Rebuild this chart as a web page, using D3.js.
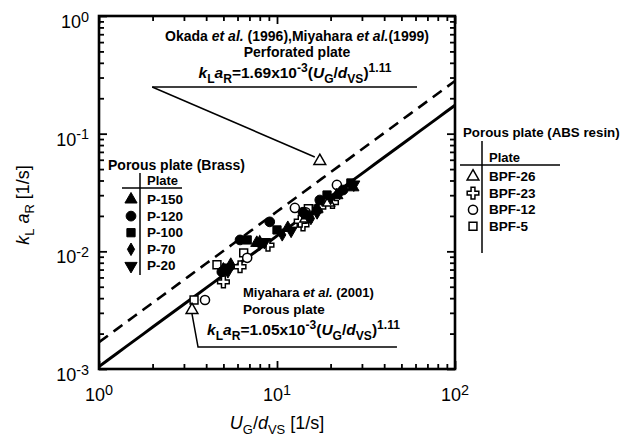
<!DOCTYPE html>
<html>
<head>
<meta charset="utf-8">
<script src="https://cdn.jsdelivr.net/npm/d3@7"></script>
<style>
  body { margin: 0; background: #fff; }
  svg { font-family: "Liberation Sans", Arial, sans-serif; }
</style>
</head>
<body>
<svg id="chart" width="623" height="436"></svg>
<script>
// ---- data (U_G/d_VS [1/s], kLaR [1/s]) ----
const p150 = [[5.0,0.0070],[7.7,0.0118],[11.5,0.0158],[16.8,0.0230],[21.7,0.0300],[26.7,0.0350]];
const p120 = [[4.9,0.0067],[6.2,0.0125],[9.1,0.0178],[14.0,0.0215],[17.4,0.0273],[23.5,0.0332]];
const p100 = [[5.2,0.0072],[6.8,0.0125],[10.0,0.0152],[14.5,0.0204],[19.1,0.0301],[26.0,0.0381]];
const p70  = [[5.5,0.0078],[8.0,0.0115],[10.7,0.0138],[15.5,0.0190],[16.8,0.0212],[22.5,0.0310]];
const p20  = [[5.3,0.0068],[8.5,0.0120],[12.0,0.0150],[15.0,0.0198],[20.0,0.0285],[27.0,0.0370]];
const bpf26 = [[8.0,0.0118],[14.5,0.0190],[19.5,0.0260]];
const bpf23 = [[5.0,0.0055],[6.2,0.0074],[8.9,0.0113],[14.0,0.0168],[13.5,0.0180],[17.4,0.0238],[20.5,0.0260]];
const bpf12 = [[3.94,0.00386],[6.8,0.0088],[12.6,0.0234],[14.5,0.0215],[21.7,0.0367]];
const bpf5  = [[3.42,0.00386],[4.6,0.0077],[6.5,0.0097],[15.0,0.0230],[19.0,0.0270]];

const brassNames = ["P-150","P-120","P-100","P-70","P-20"];
const absNames = ["BPF-26","BPF-23","BPF-12","BPF-5"];

// correlation lines kLaR = c * (UG/dVS)^1.11
const coefPerforated = 1.69e-3;
const coefPorous = 1.05e-3;
const expo = 1.11;

const xTickExp = [0, 1, 2];
const yTickExp = [-3, -2, -1, 0];

// ---- layout ----
const margin = {left: 99, top: 16, right: 168, bottom: 67};
const width = 623 - margin.left - margin.right;
const height = 436 - margin.top - margin.bottom;

const svg = d3.select("#chart");
const g = svg.append("g").attr("transform", `translate(${margin.left},${margin.top})`);

const x = d3.scaleLog().domain([1, 100]).range([0, width]);
const y = d3.scaleLog().domain([1e-3, 1]).range([height, 0]);

// minor / major tick values
const xMajor = xTickExp.map(e => 10 ** e);
const yMajor = yTickExp.map(e => 10 ** e);
const isMajor = v => Math.abs(Math.log10(v) - Math.round(Math.log10(v))) < 1e-6;
const xMinor = x.ticks().filter(v => !isMajor(v));
const yMinor = y.ticks().filter(v => !isMajor(v));

function tickAxis(gen, vals, size, tr) {
  const a = g.append("g").attr("transform", tr)
    .call(gen.tickValues(vals).tickSize(size).tickFormat(""));
  a.select(".domain").remove();
  a.selectAll("line").attr("stroke", "#000").attr("stroke-width", 1.8);
}
// inward ticks on all four sides
tickAxis(d3.axisBottom(x), xMinor, -5, `translate(0,${height})`);
tickAxis(d3.axisBottom(x), xMajor, -8, `translate(0,${height})`);
tickAxis(d3.axisTop(x), xMinor, -5, "translate(0,0)");
tickAxis(d3.axisTop(x), xMajor, -8, "translate(0,0)");
tickAxis(d3.axisLeft(y), yMinor, -5, "translate(0,0)");
tickAxis(d3.axisLeft(y), yMajor, -8, "translate(0,0)");
tickAxis(d3.axisRight(y), yMinor, -5, `translate(${width},0)`);
tickAxis(d3.axisRight(y), yMajor, -8, `translate(${width},0)`);

// frame
g.append("rect").attr("width", width).attr("height", height)
  .attr("fill", "none").attr("stroke", "#000").attr("stroke-width", 2.6);

// rich text helper: parts = [text, style] where style: "i", "sub", "sup"
function rich(sel, parts, size, scriptScale) {
  const sc = scriptScale || 0.72;
  let shift = 0;
  parts.forEach(([t, st]) => {
    st = st || "";
    let target = 0;
    if (st === "sub") target = size * 0.3;
    if (st === "sup") target = -size * 0.36;
    sel.append("tspan")
      .attr("dy", target - shift)
      .attr("font-style", st === "i" ? "italic" : null)
      .attr("font-size", target !== 0 ? size * sc : size)
      .text(t);
    shift = target;
  });
}

// tick labels
xMajor.forEach((v, i) => {
  const t = g.append("text").attr("x", x(v)).attr("y", height + 32)
    .attr("text-anchor", "middle").attr("font-size", 18);
  rich(t, [["10"], [String(xTickExp[i]), "sup"]], 18, 0.8);
});
yMajor.forEach((v, i) => {
  const t = g.append("text").attr("x", -10).attr("y", y(v) + 12)
    .attr("text-anchor", "end").attr("font-size", 18);
  rich(t, [["10"], [String(yTickExp[i]), "sup"]], 18, 0.8);
});

// axis titles
const xt = g.append("text").attr("x", width / 2).attr("y", height + 60)
  .attr("text-anchor", "middle").attr("font-size", 18);
rich(xt, [["U", "i"], ["G", "sub"], ["/"], ["d", "i"], ["VS", "sub"], [" [1/s]"]], 18);

const yt = g.append("text")
  .attr("transform", `translate(${-70},${189}) rotate(-90)`)
  .attr("text-anchor", "middle").attr("font-size", 18);
rich(yt, [["k", "i"], ["L", "sub"], [" a", "i"], ["R", "sub"], [" [1/s]"]], 18);

// correlation lines
const lineGen = d3.line().x(d => x(d[0])).y(d => y(d[1]));
const xs = d3.range(0, 2.001, 0.05).map(e => 10 ** e);
g.append("clipPath").attr("id", "clip").append("rect")
  .attr("width", width).attr("height", height);
g.append("path").attr("clip-path", "url(#clip)")
  .datum(xs.map(v => [v, coefPerforated * v ** expo]))
  .attr("d", lineGen).attr("fill", "none").attr("stroke", "#000")
  .attr("stroke-width", 2.6).attr("stroke-dasharray", "11,7");
g.append("path").attr("clip-path", "url(#clip)")
  .datum(xs.map(v => [v, coefPorous * v ** expo]))
  .attr("d", lineGen).attr("fill", "none").attr("stroke", "#000")
  .attr("stroke-width", 3);

// symbols
const sym = {
  "P-150": {type: d3.symbolTriangle, size: 64, fill: true},
  "P-120": {type: d3.symbolCircle, size: 75, fill: true},
  "P-100": {type: d3.symbolSquare, size: 68, fill: true},
  "P-70":  {type: d3.symbolDiamond, size: 45, fill: true},
  "P-20":  {type: d3.symbolTriangle, size: 64, fill: true, rot: 180},
  "BPF-26": {type: d3.symbolTriangle, size: 60, fill: false},
  "BPF-23": {type: d3.symbolCross, size: 75, fill: false},
  "BPF-12": {type: d3.symbolCircle, size: 65, fill: false},
  "BPF-5":  {type: d3.symbolSquare, size: 62, fill: false}
};
function drawSym(parent, name, px, py) {
  const s = sym[name];
  parent.append("path")
    .attr("d", d3.symbol().type(s.type).size(s.size)())
    .attr("transform", `translate(${px},${py}) rotate(${s.rot || 0})`)
    .attr("fill", s.fill ? "#000" : "#fff")
    .attr("stroke", "#000").attr("stroke-width", s.fill ? 1 : 1.5);
}

const seriesList = [
  ["BPF-5", bpf5], ["BPF-12", bpf12], ["BPF-23", bpf23], ["BPF-26", bpf26],
  ["P-150", p150], ["P-120", p120], ["P-100", p100], ["P-70", p70], ["P-20", p20]
];
seriesList.forEach(([name, pts]) => {
  pts.forEach(d => drawSym(g, name, x(d[0]), y(d[1])));
});

// ---- annotations ----
const ann = g.append("g").attr("stroke", "#000").attr("stroke-width", 1.5).attr("fill", "none");
// perforated plate note
ann.append("path").attr("d", lineGen([[1.99, 0.249], [61.2, 0.249]]));
ann.append("path").attr("d", lineGen([[1.99, 0.249], [16.3, 0.0634]]));
drawSym(g, "BPF-26", x(17.4), y(0.0586));
// porous plate note
ann.append("path").attr("d", lineGen([[47.2, 0.00154], [3.6, 0.00154], [3.33, 0.00294]]));
drawSym(g, "BPF-26", x(3.33), y(0.00317));

function noteLine(px, py, parts, size, anchor) {
  const t = svg.append("text").attr("x", px).attr("y", py)
    .attr("text-anchor", anchor || "start").attr("font-size", size).attr("font-weight", "bold");
  rich(t, parts, size, 0.78);
  return t;
}
const formulaTop = [["k", "i"], ["L", "sub"], ["a", "i"], ["R", "sub"], ["=1.69x10"], ["-3", "sup"], ["("], ["U", "i"], ["G", "sub"], ["/"], ["d", "i"], ["VS", "sub"], [")"], ["1.11", "sup"]];
const formulaBottom = [["k", "i"], ["L", "sub"], ["a", "i"], ["R", "sub"], ["=1.05x10"], ["-3", "sup"], ["("], ["U", "i"], ["G", "sub"], ["/"], ["d", "i"], ["VS", "sub"], [")"], ["1.11", "sup"]];

noteLine(297, 41, [["Okada "], ["et al.", "i"], [" (1996),Miyahara "], ["et al.", "i"], ["(1999)"]], 14, "middle");
noteLine(297, 57, [["Perforated plate"]], 14, "middle");
noteLine(295, 78, formulaTop, 15.5, "middle");

noteLine(243, 297, [["Miyahara "], ["et al.", "i"], [" (2001)"]], 13);
noteLine(243, 314, [["Porous plate"]], 13.5);
noteLine(207, 335, formulaBottom, 15.5);

// ---- legends ----
function legend(title, tsize, tx, ty, names, lx, hy, top, bottom, hx0, hx1) {
  noteLine(tx, ty, [[title]], tsize);
  svg.append("line").attr("x1", lx).attr("x2", lx).attr("y1", top).attr("y2", bottom)
    .attr("stroke", "#000").attr("stroke-width", 1.5);
  svg.append("line").attr("x1", hx0).attr("x2", hx1).attr("y1", hy).attr("y2", hy)
    .attr("stroke", "#000").attr("stroke-width", 1.5);
  noteLine(lx + 7, hy - 3, [["Plate"]], 13);
  names.forEach((n, i) => {
    const by = hy + 16 + i * 16.6;
    drawSym(svg, n, lx - 9, by - 4.5);
    noteLine(lx + 7, by, [[n]], 13.5);
  });
}
legend("Porous plate (Brass)", 14, 108, 170, brassNames, 140, 188, 173, 275, 122, 182);
legend("Porous plate (ABS resin)", 13.3, 463, 137, absNames, 482, 165, 141, 253, 460, 560);
</script>
</body>
</html>
